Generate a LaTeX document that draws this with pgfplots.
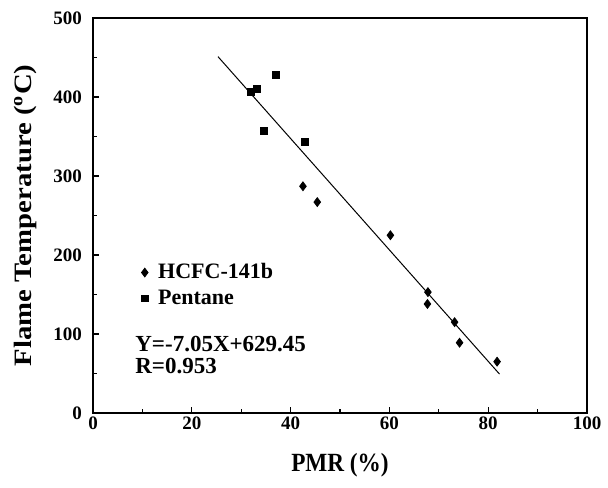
\documentclass[border=0pt]{standalone}
\usepackage{fontspec}
\setmainfont{Liberation Serif}
\usepackage{pgfplots}
\pgfplotsset{compat=1.18}
\begin{document}
\begin{tikzpicture}
\useasboundingbox (-46.5pt,-37pt) rectangle (257.5pt,206.5pt);
\begin{axis}[
  at={(0,0)}, anchor=south west,
  scale only axis,
  width=247pt, height=197.5pt,
  xmin=0, xmax=100, ymin=0, ymax=500,
  xtick={0,20,...,100}, ytick={0,100,...,500},
  minor xtick={10,30,...,90}, minor ytick={50,150,...,450},
  tick align=inside,
  xtick pos=bottom, ytick pos=left,
  major tick length=3pt, minor tick length=2pt,
  every tick/.style={black, line width=0.6pt},
  axis line style={line width=1pt},
  /pgf/number format/assume math mode=true,
  ticklabel style={font=\bfseries\fontsize{9.5}{11}\selectfont},
  xticklabel style={yshift=1.5pt},
  yticklabel style={xshift=-2pt},
  xlabel={\scalebox{0.93}[1.05]{PMR (\%)}},
  ylabel={\scalebox{1.15}[1]{Flame Temperature (\textsuperscript{o}C)}},
  label style={font=\bfseries\fontsize{12.5}{15}\selectfont},
  xlabel style={at={(rel axis cs:0.5,0)}, anchor=center, yshift=-26pt},
  ylabel style={at={([xshift=-34pt]rel axis cs:0,0.5)}, anchor=center},
  legend style={at={(rel axis cs:0.085,0.40)}, anchor=north west, draw=none, fill=none,
    font=\bfseries\fontsize{11}{13}\selectfont, row sep=0pt},
  legend cell align=left,
]
\addplot[only marks, mark=diamond*, mark size=2.2pt, black] coordinates {
(42.5,287) (45.4,267) (60.2,225) (67.8,153) (67.7,138) (73.2,115) (74.2,89) (81.8,65)
};
\addlegendentry{\hspace{3pt}HCFC-141b}
\addplot[only marks, mark=square*, mark size=1.7pt, black] coordinates {
(37.1,428) (33.1,410) (31.9,406) (34.6,357) (42.9,343)
};
\addlegendentry{\hspace{3pt}Pentane}
\addplot[black, line width=0.5pt, forget plot] coordinates {(25.3,451.1) (82.3,49.2)};
\node[anchor=west, align=left, font=\bfseries\fontsize{11.5}{11}\selectfont, inner sep=0pt]
  at (axis cs:8.5,73) {Y=-7.05X+629.45\\R=0.953};
\end{axis}
\end{tikzpicture}
\end{document}
